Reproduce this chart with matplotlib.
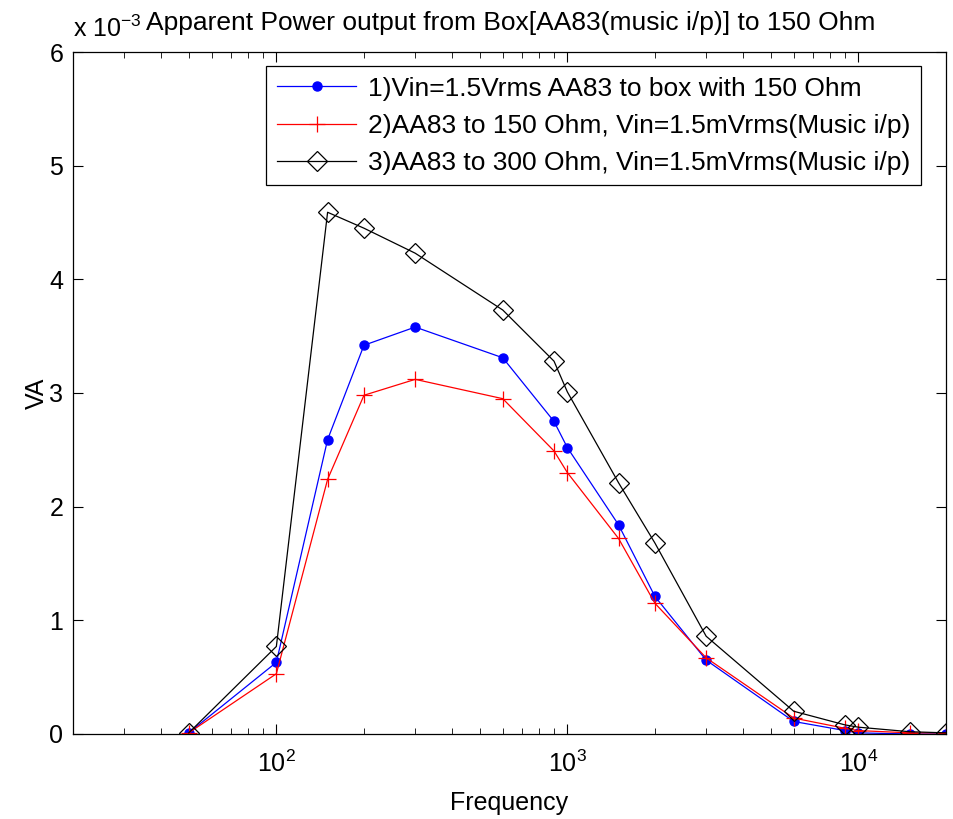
import matplotlib.pyplot as plt

plt.rcParams['font.family'] = ['Liberation Sans', 'DejaVu Sans']

# frequency points (Hz)
freq = [50, 100, 150, 200, 300, 600, 900, 1000, 1500, 2000, 3000, 6000, 9000, 10000, 15000, 20000]

# apparent power in units of 1e-3 VA
box_150 = [0.01, 0.63, 2.59, 3.42, 3.58, 3.31, 2.75, 2.52, 1.84, 1.21, 0.65, 0.11, 0.03, 0.01, 0.0, 0.0]
aa83_150 = [0.01, 0.53, 2.24, 2.98, 3.12, 2.95, 2.49, 2.30, 1.72, 1.15, 0.67, 0.14, 0.05, 0.03, 0.01, 0.01]
aa83_300 = [0.01, 0.77, 4.59, 4.45, 4.23, 3.73, 3.28, 3.01, 2.21, 1.68, 0.86, 0.20, 0.08, 0.06, 0.02, 0.01]

labels = ['1)Vin=1.5Vrms AA83 to box with 150 Ohm',
          '2)AA83 to 150 Ohm, Vin=1.5mVrms(Music i/p)',
          '3)AA83 to 300 Ohm, Vin=1.5mVrms(Music i/p)']

fs = 18
fs_big = 19

fig = plt.figure(figsize=(9.54, 8.19), dpi=100)
ax = fig.add_axes([0.0765, 0.1038, 0.915, 0.8327])

ax.plot(freq, box_150, color='blue', lw=0.9, marker='o', markersize=6.5, label=labels[0])
ax.plot(freq, aa83_150, color='red', lw=0.9, marker='+', markersize=12, markeredgewidth=0.9, label=labels[1])
ax.plot(freq, aa83_300, color='black', lw=0.9, marker='D', markersize=10, markerfacecolor='none',
        markeredgewidth=0.9, label=labels[2])

ax.set_xscale('log')
ax.set_xlim(20, 20000)
ax.set_ylim(0, 6)
ax.set_yticks([0, 1, 2, 3, 4, 5, 6])
ax.tick_params(which='both', direction='in', top=True, right=True, labelsize=fs)
ax.tick_params(which='major', length=7, pad=7)
ax.tick_params(axis='x', which='major', pad=12)
ax.tick_params(which='minor', length=4.5)
for s in ax.spines.values():
    s.set_linewidth(0.9)

ax.set_xlabel('Frequency', fontsize=fs, labelpad=10)
ax.set_ylabel('VA', fontsize=fs, labelpad=0)
ax.set_title('Apparent Power output from Box[AA83(music i/p)] to 150 Ohm', fontsize=fs_big,
             pad=16, x=0.501)
# exponent label in the top-left corner, as MATLAB draws it
ax.text(0.0, 1.022, r'x 10$^{\mathregular{-3}}$', transform=ax.transAxes,
        fontsize=fs, ha='left', va='baseline')

leg = ax.legend(loc='upper right', bbox_to_anchor=(0.9714, 0.9795), fontsize=fs_big,
                handlelength=3.0, fancybox=False, framealpha=1, edgecolor='black',
                borderaxespad=0, labelspacing=0.5, borderpad=0.4, handletextpad=0.45)
leg.get_frame().set_linewidth(0.9)

fig.savefig('out.png', dpi=100)
